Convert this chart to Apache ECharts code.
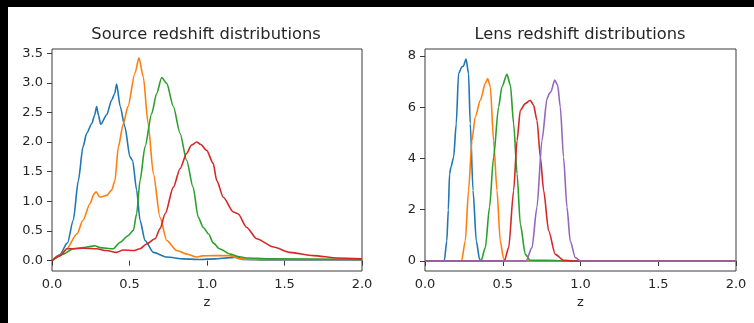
<!DOCTYPE html>
<html>
<head>
<meta charset="utf-8">
<script src="https://cdn.jsdelivr.net/npm/echarts@6/dist/echarts.min.js"></script>
<style>
  html, body { margin: 0; padding: 0; background: #fff; }
  #chart { width: 754px; height: 323px; }
</style>
</head>
<body>
<div id="chart"></div>
<script>
// Redshift distributions n(z): [z, n] samples per tomographic bin
const sourceBin1 = [[0,0],[0.05,0.1],[0.1,0.3],[0.137,0.68],[0.17,1.35],[0.2,1.92],[0.224,2.15],[0.256,2.31],[0.275,2.45],[0.288,2.6],[0.3,2.45],[0.314,2.3],[0.353,2.46],[0.385,2.71],[0.405,2.82],[0.417,2.98],[0.44,2.6],[0.47,2.26],[0.503,1.75],[0.52,1.69],[0.546,1.19],[0.568,0.68],[0.6,0.34],[0.654,0.14],[0.74,0.06],[0.85,0.03],[0.95,0.02],[1.05,0.03],[1.15,0.05],[1.2,0.06],[1.23,0.02],[1.4,0.01],[2.0,0.01]];
const sourceBin2 = [[0,0],[0.05,0.08],[0.095,0.2],[0.16,0.45],[0.2,0.68],[0.245,0.96],[0.27,1.12],[0.284,1.16],[0.31,1.07],[0.353,1.1],[0.385,1.19],[0.406,1.35],[0.428,1.92],[0.46,2.31],[0.49,2.6],[0.535,3.16],[0.561,3.42],[0.589,3.1],[0.62,2.31],[0.654,1.47],[0.697,0.73],[0.74,0.34],[0.805,0.17],[0.87,0.11],[0.93,0.06],[0.97,0.08],[1.04,0.085],[1.15,0.085],[1.21,0.03],[1.3,0.02],[2.0,0.02]];
const sourceBin3 = [[0,0],[0.073,0.11],[0.137,0.2],[0.2,0.22],[0.25,0.24],[0.277,0.25],[0.31,0.22],[0.395,0.2],[0.44,0.31],[0.49,0.42],[0.525,0.51],[0.546,0.79],[0.568,1.35],[0.6,1.92],[0.643,2.48],[0.675,2.82],[0.708,3.09],[0.74,2.99],[0.783,2.6],[0.826,2.15],[0.869,1.69],[0.91,1.24],[0.944,0.73],[0.976,0.56],[1.01,0.45],[1.04,0.3],[1.08,0.2],[1.15,0.11],[1.2,0.07],[1.256,0.045],[1.4,0.03],[2.0,0.02]];
const sourceBin4 = [[0,0],[0.05,0.08],[0.1,0.2],[0.2,0.21],[0.288,0.2],[0.35,0.17],[0.417,0.14],[0.46,0.18],[0.525,0.17],[0.568,0.2],[0.61,0.28],[0.665,0.37],[0.697,0.54],[0.73,0.79],[0.783,1.24],[0.826,1.55],[0.869,1.81],[0.9,1.95],[0.933,2.0],[0.96,1.96],[0.998,1.86],[1.04,1.64],[1.063,1.35],[1.105,1.07],[1.17,0.82],[1.2,0.79],[1.256,0.56],[1.32,0.37],[1.43,0.23],[1.535,0.14],[1.686,0.085],[1.84,0.045],[2.0,0.03]];

const lensBin1 = [[0,0],[0.124,0],[0.14,0.78],[0.15,2.0],[0.158,3.4],[0.167,3.66],[0.184,4.05],[0.201,5.36],[0.216,7.32],[0.238,7.58],[0.247,7.6],[0.264,7.88],[0.28,7.32],[0.291,5.36],[0.309,2.75],[0.33,0.78],[0.351,0.07],[0.36,0],[2.0,0]];
const lensBin2 = [[0,0],[0.235,0],[0.259,0.78],[0.28,2.75],[0.302,4.7],[0.323,5.62],[0.356,6.27],[0.388,6.93],[0.403,7.12],[0.42,6.8],[0.441,4.7],[0.463,2.75],[0.484,0.78],[0.505,0.1],[0.516,0],[2.0,0]];
const lensBin3 = [[0,0],[0.36,0],[0.388,0.52],[0.415,2.1],[0.441,4.05],[0.473,6.0],[0.495,6.8],[0.527,7.28],[0.549,6.86],[0.57,5.36],[0.592,3.4],[0.613,1.44],[0.645,0.26],[0.676,0.03],[0.85,0.02],[0.9,0],[2.0,0]];
const lensBin4 = [[0,0],[0.51,0],[0.538,0.52],[0.57,2.75],[0.592,4.7],[0.613,5.88],[0.645,6.14],[0.677,6.27],[0.698,6.08],[0.72,5.49],[0.742,4.05],[0.763,2.75],[0.795,1.18],[0.838,0.26],[0.891,0.03],[0.95,0],[2.0,0]];
const lensBin5 = [[0,0],[0.65,0],[0.688,0.52],[0.72,2.1],[0.752,4.7],[0.785,6.34],[0.8,6.54],[0.81,6.6],[0.834,7.06],[0.853,6.86],[0.87,6.01],[0.891,4.05],[0.913,2.1],[0.934,0.78],[0.967,0.13],[1.0,0],[2.0,0]];

const zTicks = [0, 0.5, 1.0, 1.5, 2.0];
const sourceTicks = [0, 0.5, 1.0, 1.5, 2.0, 2.5, 3.0, 3.5];
const lensTicks = [0, 2, 4, 6, 8];
const titles = ['Source redshift distributions', 'Lens redshift distributions'];
const palette = ['#1f77b4', '#ff7f0e', '#2ca02c', '#d62728', '#9467bd'];

const FONT = 'DejaVu Sans';
const TEXT = '#262626';
const FRAME = '#3a3a3a';

function xAxisFor(gridIndex) {
  return {
    type: 'value', gridIndex: gridIndex, min: 0, max: 2, interval: 0.5,
    name: 'z', nameLocation: 'middle', nameGap: 24,
    nameTextStyle: { fontFamily: FONT, fontSize: 13, color: TEXT },
    axisLine: { show: false },
    axisTick: { show: true, inside: false, length: 5, lineStyle: { color: FRAME, width: 1 }, customValues: zTicks },
    axisLabel: { fontFamily: FONT, fontSize: 13, color: TEXT, margin: 7, customValues: zTicks,
                 formatter: v => v.toFixed(1) },
    splitLine: { show: false }
  };
}

function yAxisFor(gridIndex, lo, hi, ticks, digits) {
  return {
    type: 'value', gridIndex: gridIndex, min: lo, max: hi,
    axisLine: { show: false },
    axisTick: { show: true, inside: false, length: 5, lineStyle: { color: FRAME, width: 1 }, customValues: ticks },
    axisLabel: { fontFamily: FONT, fontSize: 13, color: TEXT, margin: 9, customValues: ticks,
                 formatter: v => v.toFixed(digits) },
    splitLine: { show: false }
  };
}

function lineSeries(data, color, axisIndex) {
  return {
    type: 'line', data: data, xAxisIndex: axisIndex, yAxisIndex: axisIndex,
    showSymbol: false, symbol: 'none', smooth: 0.25, smoothMonotone: 'x',
    lineStyle: { color: color, width: 1.6 },
    emphasis: { disabled: true }
  };
}

function titleAt(text, cx) {
  return { text: text, left: cx, top: 27, padding: 0, textAlign: 'center',
           textStyle: { fontFamily: FONT, fontSize: 16.3, fontWeight: 'normal', color: TEXT } };
}

const chart = echarts.init(document.getElementById('chart'), null, { renderer: 'canvas' });
chart.setOption({
  animation: false,
  backgroundColor: '#ffffff',
  title: [titleAt(titles[0], 206), titleAt(titles[1], 580)],
  grid: [
    { left: 52, top: 49, width: 310, height: 222, show: true, borderColor: FRAME, borderWidth: 1,
      backgroundColor: '#fff', containLabel: false, outerBoundsMode: 'none' },
    { left: 425, top: 49, width: 311, height: 222, show: true, borderColor: FRAME, borderWidth: 1,
      backgroundColor: '#fff', containLabel: false, outerBoundsMode: 'none' }
  ],
  xAxis: [xAxisFor(0), xAxisFor(1)],
  yAxis: [yAxisFor(0, -0.175, 3.57, sourceTicks, 1), yAxisFor(1, -0.39, 8.27, lensTicks, 0)],
  series: [
    lineSeries(sourceBin1, palette[0], 0),
    lineSeries(sourceBin2, palette[1], 0),
    lineSeries(sourceBin3, palette[2], 0),
    lineSeries(sourceBin4, palette[3], 0),
    lineSeries(lensBin1, palette[0], 1),
    lineSeries(lensBin2, palette[1], 1),
    lineSeries(lensBin3, palette[2], 1),
    lineSeries(lensBin4, palette[3], 1),
    lineSeries(lensBin5, palette[4], 1)
  ],
  graphic: [
    { type: 'rect', left: 0, top: 0, shape: { width: 754, height: 7 }, style: { fill: '#000' }, z: 100 },
    { type: 'rect', left: 0, top: 0, shape: { width: 8, height: 323 }, style: { fill: '#000' }, z: 100 }
  ]
});
</script>
</body>
</html>
